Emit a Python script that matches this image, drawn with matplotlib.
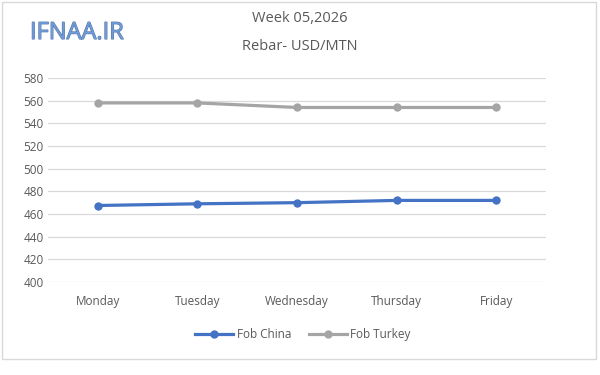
import matplotlib.pyplot as plt
import matplotlib.patheffects as pe
from matplotlib.patches import Rectangle

days = ["Monday", "Tuesday", "Wednesday", "Thursday", "Friday"]
fob_china = [467.5, 469, 470, 472, 472]
fob_turkey = [558, 558, 554, 554, 554]
yticks = list(range(400, 581, 20))

plt.rcParams['font.family'] = ['Open Sans', 'DejaVu Sans']
txt = '#595959'

fig = plt.figure(figsize=(6, 3.75), dpi=100)
ax = fig.add_axes([0.08, 0.248, 0.83, 0.544])

x = range(len(days))
ax.plot(x, fob_china, color='#4472C4', lw=2.3, marker='o', ms=5, label='Fob China')
ax.plot(x, fob_turkey, color='#A5A5A5', lw=2.3, marker='o', ms=5, label='Fob Turkey')

ax.set_xlim(-0.5, len(days) - 0.5)
ax.set_ylim(400, 580)
ax.set_yticks(yticks)
ax.set_xticks(list(x))
ax.set_xticklabels(days)
ax.tick_params(length=0, labelsize=8.5, colors=txt)
ax.tick_params(axis='x', pad=9)
ax.tick_params(axis='y', pad=3)
ax.grid(axis='y', color='#D9D9D9', lw=0.9)
ax.set_axisbelow(True)
for s in ax.spines.values():
    s.set_visible(False)

fig.text(0.5, 0.952, "Week 05,2026", ha='center', va='center', fontsize=10.5, color=txt)
fig.text(0.5, 0.877, "Rebar- USD/MTN", ha='center', va='center', fontsize=10.5, color=txt)
logo = fig.text(0.05, 0.912, "IFNAA.IR", ha='left', va='center', fontsize=17,
                color='#6f9ad6')
logo.set_path_effects([pe.withStroke(linewidth=0.8, foreground='#5577aa')])

fig.legend(loc='center', bbox_to_anchor=(0.505, 0.107), ncol=2, frameon=False,
           fontsize=8.5, labelcolor=txt, handlelength=3.2, columnspacing=1.5, handletextpad=0.3)

fig.patches.append(Rectangle((0.004, 0.042), 0.99, 0.953, transform=fig.transFigure,
                             fill=False, edgecolor='#D9D9D9', lw=1))

fig.savefig('out.png', dpi=100)
